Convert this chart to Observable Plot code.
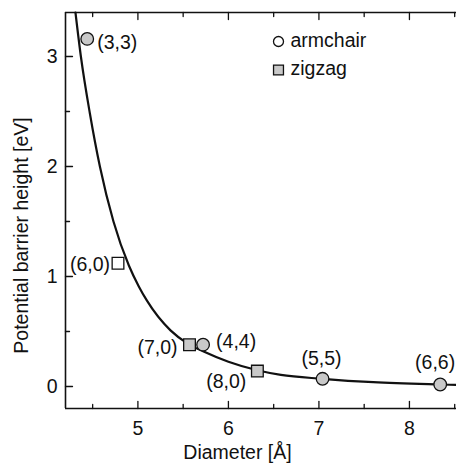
<!DOCTYPE html>
<html><head><meta charset="utf-8">
<script src="https://cdn.jsdelivr.net/npm/d3@7"></script>
<script src="https://cdn.jsdelivr.net/npm/@observablehq/plot@0.6"></script>
<style>body{margin:0;overflow:hidden;background:#fff} svg{display:block}</style>
</head><body><div id="chart"></div>
<script>
// ---- data ----
const armchairLabels = ["(3,3)", "(4,4)", "(5,5)", "(6,6)"];
const armchairDiameter = [4.44, 5.72, 7.04, 8.34];
const armchairBarrier = [3.16, 0.38, 0.07, 0.018];

const zigzagLabels = ["(6,0)", "(7,0)", "(8,0)"];
const zigzagDiameter = [4.78, 5.57, 6.32];
const zigzagBarrier = [1.12, 0.38, 0.14];

const fitDiameter = [4.31, 4.37, 4.47, 4.58, 4.73, 4.90, 5.01, 5.10, 5.36, 5.55, 5.72, 6.00, 6.33, 6.58, 7.04, 7.60, 8.34, 8.52];
const fitBarrier  = [3.40, 3.00, 2.48, 2.00, 1.50, 1.10, 0.91, 0.78, 0.51, 0.39, 0.32, 0.225, 0.145, 0.105, 0.07, 0.039, 0.018, 0.014];

const xMajorTicks = [5, 6, 7, 8];
const xMinorTicks = [4.5, 5.5, 6.5, 7.5, 8.5];
const yMajorTicks = [0, 1, 2, 3];
const yMinorTicks = [0.5, 1.5, 2.5];

const legendLabels = ["armchair", "zigzag"];
const xTitle = "Diameter [Å]";
const yTitle = "Potential barrier height [eV]";

// ---- build tables ----
const armchair = armchairLabels.map((label, i) => ({label, d: armchairDiameter[i], e: armchairBarrier[i]}));
const zigzag = zigzagLabels.map((label, i) => ({label, d: zigzagDiameter[i], e: zigzagBarrier[i]}));
const fit = fitDiameter.map((d, i) => ({d, e: fitBarrier[i]}));

const FS = 19.5;
// label placement (layout, not data)
const place = {
  "(3,3)": {anchor: "start", dx: 10, dy: 4},
  "(4,4)": {anchor: "start", dx: 13, dy: -3},
  "(5,5)": {anchor: "middle", dx: -1, dy: -20},
  "(6,6)": {anchor: "end", dx: 15, dy: -22},
  "(6,0)": {anchor: "end", dx: -8, dy: 1},
  "(7,0)": {anchor: "end", dx: -12, dy: 3},
  "(8,0)": {anchor: "end", dx: -11, dy: 11}
};
const allPts = [...armchair, ...zigzag];
const labelMarks = allPts.map(p => Plot.text([p], {
  x: "d", y: "e", text: "label",
  textAnchor: place[p.label].anchor, lineAnchor: "middle", dx: place[p.label].dx, dy: place[p.label].dy,
  fontSize: FS, fill: "#111"
}));

const GRAY = "#c9c9c9";
const INK = "#111";
const tickShape = {draw(context, l) { context.moveTo(0, 0); context.lineTo(0, -l); }};
const tk = (data, opts) => Plot.vector(data, {shape: tickShape, anchor: "start", stroke: INK, strokeWidth: 1.3, ...opts});

const chart = Plot.plot({
  width: 456, height: 464,
  marginLeft: 65, marginTop: 12, marginBottom: 56, marginRight: 0,
  style: {fontFamily: "'Liberation Sans', Arial, Helvetica, sans-serif", fontSize: FS + "px", background: "#fff"},
  x: {domain: [4.2, 8.52]},
  y: {domain: [-0.2, 3.4]},
  marks: [
    Plot.axisX(xMajorTicks, {tickSize: 0, tickPadding: 13, fontSize: FS, label: null, fill: INK, tickFormat: d => String(d)}),
    Plot.axisY(yMajorTicks, {tickSize: 0, tickPadding: 8, fontSize: FS, label: null, fill: INK, tickFormat: d => String(d)}),
    // inward ticks
    tk(xMajorTicks, {x: d => d, frameAnchor: "bottom", rotate: 0, length: 7}),
    tk(xMinorTicks, {x: d => d, frameAnchor: "bottom", rotate: 0, length: 4}),
    tk(xMajorTicks, {x: d => d, frameAnchor: "top", rotate: 180, length: 7}),
    tk(xMinorTicks, {x: d => d, frameAnchor: "top", rotate: 180, length: 4}),
    tk(yMajorTicks, {y: d => d, frameAnchor: "left", rotate: 90, length: 7}),
    tk(yMinorTicks, {y: d => d, frameAnchor: "left", rotate: 90, length: 4}),
    // frame (left, bottom, top)
    Plot.ruleX([4.2], {stroke: INK, strokeWidth: 1.6}),
    Plot.ruleY([-0.2, 3.4], {stroke: INK, strokeWidth: 1.6}),
    // fitted curve
    Plot.line(fit, {x: "d", y: "e", curve: "monotone-x", stroke: INK, strokeWidth: 2.2}),
    // points
    Plot.dot(zigzag, {x: "d", y: "e", symbol: "square", r: 6.6, fill: d => d.label === "(6,0)" ? "white" : GRAY, stroke: INK, strokeWidth: 1.3}),
    Plot.dot(armchair, {x: "d", y: "e", symbol: "circle", r: 6.3, fill: GRAY, stroke: INK, strokeWidth: 1.3}),
    ...labelMarks,
    // legend
    Plot.dot([legendLabels[0]], {frameAnchor: "top-left", dx: 213, dy: 29, symbol: "circle", r: 5, fill: "white", stroke: INK, strokeWidth: 1.3}),
    Plot.dot([legendLabels[1]], {frameAnchor: "top-left", dx: 213, dy: 57.5, symbol: "square", r: 5.6, fill: GRAY, stroke: INK, strokeWidth: 1.3}),
    Plot.text([legendLabels[0]], {frameAnchor: "top-left", dx: 225, dy: 28, text: d => d, textAnchor: "start", lineAnchor: "middle", fontSize: FS, fill: INK}),
    Plot.text([legendLabels[1]], {frameAnchor: "top-left", dx: 225, dy: 56, text: d => d, textAnchor: "start", lineAnchor: "middle", fontSize: FS, fill: INK}),
    // axis titles
    Plot.text([xTitle], {frameAnchor: "bottom", dx: -23.5, dy: 44, text: d => d, textAnchor: "middle", lineAnchor: "middle", fontSize: FS, fill: INK}),
    Plot.text([yTitle], {frameAnchor: "left", dx: -43.5, dy: 25, rotate: -90, text: d => d, textAnchor: "middle", lineAnchor: "middle", fontSize: FS, fill: INK})
  ]
});
document.getElementById("chart").appendChild(chart);
</script>
</body></html>
